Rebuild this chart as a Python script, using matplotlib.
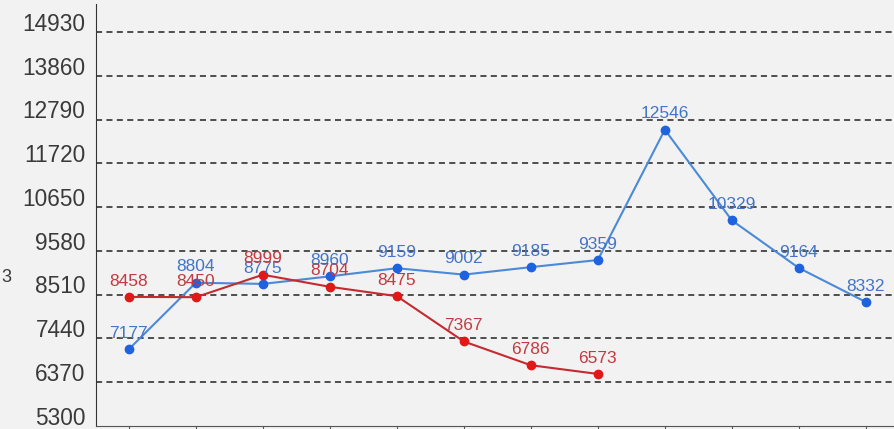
import matplotlib
matplotlib.use("Agg")
import matplotlib.pyplot as plt
from matplotlib.transforms import ScaledTranslation

# series values
blue_values = [7177, 8804, 8775, 8960, 9159, 9002, 9185, 9359, 12546, 10329, 9164, 8332]
red_values = [8458, 8450, 8999, 8704, 8475, 7367, 6786, 6573]
y_ticks = [5300, 6370, 7440, 8510, 9580, 10650, 11720, 12790, 13860, 14930]

plt.rcParams['font.family'] = ['Liberation Sans', 'DejaVu Sans']

bg = '#f2f2f2'
fig = plt.figure(figsize=(8.94, 4.29), dpi=100, facecolor=bg)
ax = fig.add_axes([96 / 894, 3 / 429, 1 - 96 / 894, 422 / 429])
ax.set_facecolor(bg)

xb = list(range(len(blue_values)))
xr = list(range(len(red_values)))

ax.plot(xb, blue_values, color='#4a8ad8', lw=1.5, marker='o', ms=6,
        mfc='#1f62e0', mec='#1f62e0', zorder=3)
ax.plot(xr, red_values, color='#c42a30', lw=1.5, marker='o', ms=6,
        mfc='#e01818', mec='#e01818', zorder=3)

for x, v in zip(xb, blue_values):
    ax.annotate(str(v), (x, v), xytext=(0, 6), textcoords='offset points',
                ha='center', va='bottom', fontsize=12.5, color='#4474c8', zorder=4)
for x, v in zip(xr, red_values):
    ax.annotate(str(v), (x, v), xytext=(0, 6), textcoords='offset points',
                ha='center', va='bottom', fontsize=12.5, color='#c43a40', zorder=4)

ax.set_ylim(5300, 15620)
ax.set_xlim(-0.49, 11.42)
ax.set_yticks(y_ticks)
ax.set_yticklabels([str(t) for t in y_ticks])
ax.set_xticks(xb)
ax.set_xticklabels([''] * len(xb))

for t in y_ticks[1:]:
    ax.axhline(t, color='#222222', lw=1.1, ls=(0, (4, 2.8)), zorder=1)

ax.tick_params(axis='y', length=0, pad=7.5, labelsize=16.3, labelcolor='#3a3a3a')
ax.tick_params(axis='x', length=6, direction='out', color='#555555')
for lab in ax.get_yticklabels():
    lab.set_verticalalignment('baseline')
    lab.set_transform(lab.get_transform() + ScaledTranslation(0, 1 / 72, fig.dpi_scale_trans))

for side in ['top', 'right']:
    ax.spines[side].set_visible(False)
ax.spines['left'].set_color('#333333')
ax.spines['bottom'].set_color('#555555')

fig.text(0.001, 1 - 278 / 429, '3', fontsize=13, color='#3a3a3a', va='center', ha='left')

fig.savefig('out.png', dpi=100, facecolor=bg)
